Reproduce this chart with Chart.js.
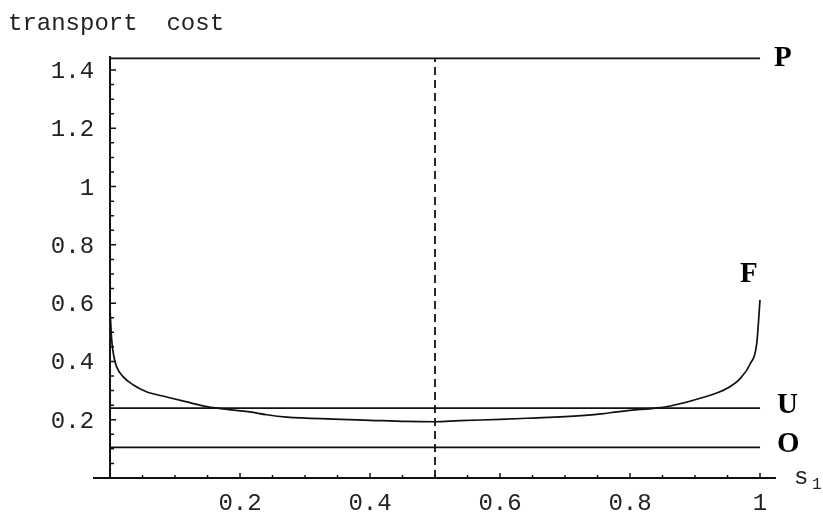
<!DOCTYPE html>
<html>
<head>
<meta charset="utf-8">
<script src="https://cdn.jsdelivr.net/npm/chart.js@4/dist/chart.umd.min.js"></script>
<style>
  html, body { margin: 0; padding: 0; background: #fff; }
  #wrap { width: 823px; height: 516px; position: relative; }
</style>
</head>
<body>
<div id="wrap"><canvas id="costChart"></canvas></div>
<script>
// share s1 and transport cost of the F curve
const shareValues = [0, 0.0026, 0.006, 0.01, 0.02, 0.036, 0.056, 0.087, 0.118, 0.149, 0.19, 0.215,
  0.241, 0.272, 0.343, 0.40, 0.456, 0.5, 0.538, 0.60, 0.641, 0.725, 0.756, 0.78, 0.8, 0.84,
  0.862, 0.912, 0.949, 0.969, 0.985, 0.995, 1];
const costF = [0.576, 0.473, 0.416, 0.382, 0.348, 0.319, 0.296, 0.278, 0.261, 0.245, 0.233, 0.227,
  0.217, 0.209, 0.202, 0.198, 0.194, 0.193, 0.197, 0.201, 0.205, 0.214, 0.220, 0.227, 0.232, 0.240,
  0.247, 0.276, 0.307, 0.340, 0.392, 0.462, 0.611];

// flat cost levels
const levelNames = ['P', 'U', 'O'];
const levelValues = [1.44, 0.24, 0.105];

const splitShare = 0.5;

const xTickValues = [0.2, 0.4, 0.6, 0.8, 1];
const xTickLabels = ['0.2', '0.4', '0.6', '0.8', '1'];
const yTickValues = [0.2, 0.4, 0.6, 0.8, 1, 1.2, 1.4];
const yTickLabels = ['0.2', '0.4', '0.6', '0.8', '1', '1.2', '1.4'];

const ink = '#111';
const monoFont = '"Liberation Mono", "DejaVu Sans Mono", monospace';

const datasets = [
  {
    label: 'F',
    data: shareValues.map((s, i) => ({ x: s, y: costF[i] })),
    borderColor: ink,
    borderWidth: 1.7,
    cubicInterpolationMode: 'monotone'
  },
  ...levelNames.map((name, i) => ({
    label: name,
    data: [{ x: 0, y: levelValues[i] }, { x: 1, y: levelValues[i] }],
    borderColor: ink,
    borderWidth: 1.8
  })),
  {
    label: 'split',
    data: [{ x: splitShare, y: 0 }, { x: splitShare, y: levelValues[0] }],
    borderColor: ink,
    borderWidth: 1.8,
    borderDash: [8, 5]
  }
];

// Mathematica-like axes crossing at the origin, ticks pointing inward
const mathAxes = {
  id: 'mathAxes',
  afterDatasetsDraw(chart) {
    const { ctx } = chart;
    const x = chart.scales.x, y = chart.scales.y;
    const x0 = x.getPixelForValue(0), y0 = y.getPixelForValue(0);
    ctx.save();
    ctx.strokeStyle = ink;
    ctx.fillStyle = ink;
    ctx.lineWidth = 2;
    ctx.beginPath();
    ctx.moveTo(x.left, y0); ctx.lineTo(x.right, y0);
    ctx.moveTo(x0, y.top); ctx.lineTo(x0, y0 + 1);
    ctx.stroke();

    ctx.lineWidth = 1.5;
    ctx.beginPath();
    for (let k = 1; k <= 20; k++) {
      const px = x.getPixelForValue(k * 0.05);
      const len = k % 4 === 0 ? 5 : 3;
      ctx.moveTo(px, y0); ctx.lineTo(px, y0 - len);
    }
    for (let k = 1; k <= 28; k++) {
      const py = y.getPixelForValue(k * 0.05);
      const len = k % 4 === 0 ? 6 : 4;
      ctx.moveTo(x0, py); ctx.lineTo(x0 + len, py);
    }
    ctx.stroke();

    ctx.font = '24px ' + monoFont;
    ctx.fillStyle = '#222';
    ctx.textBaseline = 'alphabetic';
    ctx.textAlign = 'center';
    xTickValues.forEach((v, i) => {
      ctx.fillText(xTickLabels[i], x.getPixelForValue(v), y0 + 32);
    });
    ctx.textAlign = 'right';
    yTickValues.forEach((v, i) => {
      ctx.fillText(yTickLabels[i], x0 - 16, y.getPixelForValue(v) + 8);
    });

    ctx.textAlign = 'left';
    ctx.fillText('transport  cost', 8, 30);
    ctx.font = '24px ' + monoFont;
    ctx.fillText('s', x.right + 18, y0 + 6);
    ctx.font = '16px ' + monoFont;
    ctx.fillText('1', x.right + 36, y0 + 11);

    // curve letters
    ctx.fillStyle = '#000';
    ctx.font = 'bold 29px "Liberation Serif", "DejaVu Serif", serif';
    const x1 = x.getPixelForValue(1);
    ctx.fillText(levelNames[0], x1 + 14, y.getPixelForValue(levelValues[0]) + 8);
    ctx.fillText(levelNames[1], x1 + 17, y.getPixelForValue(levelValues[1]) + 5);
    ctx.fillText(levelNames[2], x1 + 17, y.getPixelForValue(levelValues[2]) + 5);
    ctx.fillText('F', x1 - 20, y.getPixelForValue(costF[costF.length - 1]) - 18);
    ctx.restore();
  }
};

new Chart(document.getElementById('costChart'), {
  type: 'scatter',
  data: { datasets: datasets },
  options: {
    responsive: true,
    maintainAspectRatio: false,
    animation: false,
    showLine: true,
    layout: { padding: { left: 93, right: 47, top: 56, bottom: 38 } },
    elements: { point: { radius: 0, hoverRadius: 0 } },
    scales: {
      x: { type: 'linear', min: -0.0262, max: 1.0246, display: false },
      y: { type: 'linear', min: 0, max: 1.448, display: false }
    },
    plugins: { legend: { display: false }, tooltip: { enabled: false } }
  },
  plugins: [mathAxes]
});
</script>
</body>
</html>
